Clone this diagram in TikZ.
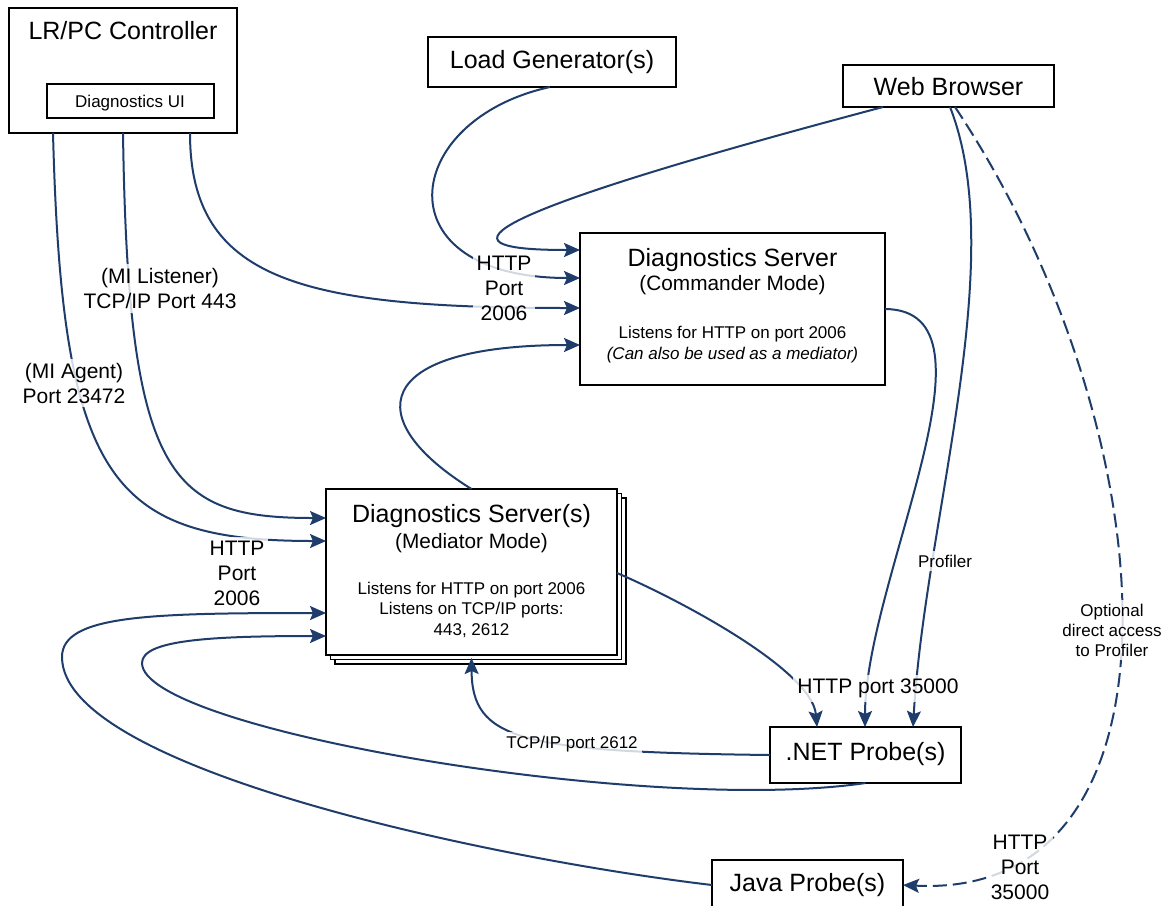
\documentclass[tikz,border=0pt]{standalone}
\usepackage{fontspec}
\setmainfont{Liberation Sans}
\usetikzlibrary{calc, positioning, shadows, arrows.meta}
\definecolor{linkblue}{HTML}{1F3D6B}
\tikzstyle{box}=[shape=rectangle, draw=black, line width=0.8pt, fill=white, inner sep=0pt, outer sep=0pt]
\tikzstyle{titletext}=[anchor=base, inner sep=0pt, font=\fontsize{12.5}{14}\selectfont]
\tikzstyle{modetext}=[anchor=base, inner sep=0pt, font=\fontsize{10.4}{12}\selectfont]
\tikzstyle{smalltext}=[anchor=base, inner sep=0pt, font=\fontsize{8.5}{10}\selectfont]
\tikzstyle{lbl}=[align=center, fill=white, fill opacity=0.8, text opacity=1, inner sep=2pt, font=\fontsize{10.5}{12.5}\selectfont]
\tikzstyle{slbl}=[lbl, font=\fontsize{8.5}{10}\selectfont]
\tikzstyle{link}=[draw=linkblue, line width=1pt, -{Stealth[length=8pt,width=7pt,inset=1.5pt]}]

\begin{document}
\begin{tikzpicture}[x=0.5pt, y=-0.5pt]
\clip (0,0) rectangle (1170,905);
\fill[white] (0,0) rectangle (1170,905);
%boxes
\node[box, minimum width=114pt, minimum height=62.5pt] (ctrl) at (123,70.5) {};
\node[box, minimum width=83.5pt, minimum height=17pt] (diagui) at (130.5,101) {};
\node[box, minimum width=124pt, minimum height=25pt] (lg) at (552,62) {};
\node[box, minimum width=105.5pt, minimum height=21pt] (wb) at (948.5,86) {};
\node[box, minimum width=152.5pt, minimum height=76pt] (cmd) at (732.5,309) {};
\node[box, minimum width=145.5pt, minimum height=83pt, double copy shadow={shadow xshift=2.25pt, shadow yshift=-2.25pt}] (med) at (471.5,572) {};
\node[box, minimum width=95.5pt, minimum height=28pt] (net) at (865.5,755) {};
\node[box, minimum width=95.5pt, minimum height=25pt] (java) at (807.5,885) {};

\node[titletext] at (123,39) {LR/PC Controller};
\node[smalltext] at (130,107.5) {Diagnostics UI};
\node[titletext] at (552,68) {Load Generator(s)};
\node[titletext] at (948.5,95.5) {Web Browser};
\node[titletext] at (732.5,266) {Diagnostics Server};
\node[modetext] at (732.5,290.5) {(Commander Mode)};
\node[smalltext] at (732.5,338) {Listens for HTTP on port 2006};
\node[smalltext] at (732.5,359) {\itshape(Can also be used as a mediator)};
\node[titletext] at (471.5,522) {Diagnostics Server(s)};
\node[modetext] at (471.5,548.5) {(Mediator Mode)};
\node[smalltext] at (471.5,594) {Listens for HTTP on port 2006};
\node[smalltext] at (471.5,614) {Listens on TCP/IP ports:};
\node[smalltext] at (471.5,635) {443, 2612};
\node[titletext] at (865.5,760) {.NET Probe(s)};
\node[titletext] at (807.5,891) {Java Probe(s)};

%end points
\coordinate (ctrlA) at ($(ctrl.south west)+(44,0)$);
\coordinate (ctrlB) at ($(ctrl.south west)+(114,0)$);
\coordinate (ctrlC) at ($(ctrl.south west)+(181,0)$);
\coordinate (lgout) at ($(lg.south)+(-2,0)$);
\coordinate (wbA) at ($(wb.south west)+(40,0)$);
\coordinate (wbB) at ($(wb.south west)+(107,0)$);
\coordinate (wbC) at ($(wb.south west)+(112,0)$);
\foreach \n/\dy in {A/17, B/45, C/75, D/112}{
  \coordinate (cmd\n) at ($(cmd.north west)+(0,\dy)$);
}
\foreach \n/\dy in {A/29, B/52, C/124, D/147}{
  \coordinate (med\n) at ($(med.north west)+(0,\dy)$);
}
\coordinate (medout) at ($(med.east)+(0,1)$);
\coordinate (medin) at ($(med.south)+(0,3)$);
\foreach \n/\dx in {A/47, B/95, C/143}{
  \coordinate (net\n) at ($(net.north west)+(\dx,0)$);
}

%connectors
\draw[link] (ctrlA) .. controls (62,480) and (110,541) .. (medB);
\draw[link] (ctrlB) .. controls (128,480) and (170,518) .. (medA);
\draw[link] (ctrlC) .. controls (190,280) and (300,308) .. (cmdC);
\draw[link] (lgout) .. controls (400,120) and (380,278) .. (cmdB);
\draw[link] (wbA) .. controls (400,235) and (470,250) .. (cmdA);
\draw[link] (med.north) .. controls (360,420) and (370,345) .. (cmdD);
\draw[link] (cmd.east) .. controls (1010,310) and (865,580) .. (netB);
\draw[link] (wbB) .. controls (1010,260) and (925,520) .. (netC);
\draw[link] (medout) .. controls (680,600) and (812,670) .. (netA);
\draw[link, dash pattern=on 7pt off 3pt] (wbC) .. controls (1170,430) and (1200,900) .. (java.east);
\draw[link] (net.west) .. controls (520,752) and (472,740) .. (medin);
\draw[link] (net.south) .. controls (650,815) and (142,730) .. (142,663) .. controls (142,640) and (210,636) .. (medD);
\draw[link] (java.west) .. controls (500,860) and (62,770) .. (62,657) .. controls (62,615) and (150,613) .. (medC);

%labels
\node[lbl] (lmil) at (160,288.5) {(MI Listener)\\TCP/IP Port 443};
\node[lbl] (lmia) at (74,383) {(MI Agent)\\Port 23472};
\node[lbl] (lhttpc) at (504,288) {HTTP\\Port\\2006};
\node[lbl] (lhttpm) at (237,573) {HTTP\\Port\\2006};
\node[slbl] (lprof) at (945,561) {Profiler};
\node[slbl] (lopt) at (1112,630) {Optional\\direct access\\to Profiler};
\node[lbl] (lnet) at (878,688) {HTTP port 35000};
\node[slbl] (ltcp) at (572,744) {TCP/IP port 2612};
\node[lbl] (ljava) at (1020,867) {HTTP\\Port\\35000};
\end{tikzpicture}
\end{document}
